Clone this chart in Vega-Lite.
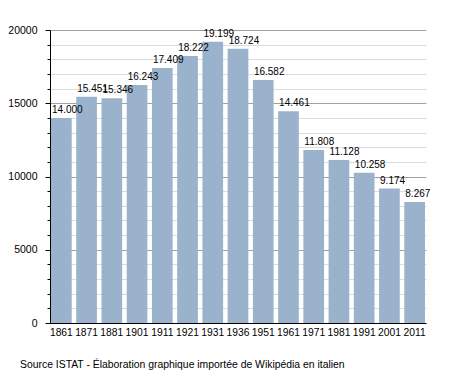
{
  "$schema": "https://vega.github.io/schema/vega-lite/v6.json",
  "autosize": "none",
  "width": 376,
  "height": 293,
  "padding": {"left": 50, "top": 30, "right": 29, "bottom": 50},
  "background": "white",
  "data": {"values": [
    {"year": "1861", "pop": 14000},
    {"year": "1871", "pop": 15451},
    {"year": "1881", "pop": 15346},
    {"year": "1901", "pop": 16243},
    {"year": "1911", "pop": 17409},
    {"year": "1921", "pop": 18222},
    {"year": "1931", "pop": 19199},
    {"year": "1936", "pop": 18724},
    {"year": "1951", "pop": 16582},
    {"year": "1961", "pop": 14461},
    {"year": "1971", "pop": 11808},
    {"year": "1981", "pop": 11128},
    {"year": "1991", "pop": 10258},
    {"year": "2001", "pop": 9174},
    {"year": "2011", "pop": 8267}
  ]},
  "title": {
    "text": "Source ISTAT - Élaboration graphique importée de Wikipédia en italien",
    "orient": "bottom",
    "anchor": "start",
    "frame": "group",
    "dx": -30,
    "offset": 23,
    "font": "Liberation Sans",
    "fontSize": 10.4,
    "fontWeight": "normal",
    "color": "#000"
  },
  "encoding": {
    "x": {
      "field": "year", "type": "ordinal", "sort": null,
      "scale": {"paddingInner": 0.18, "paddingOuter": 0.04},
      "axis": {
        "title": null, "labelAngle": 0, "ticks": false, "domainColor": "#000",
        "labelFont": "Liberation Sans", "labelFontSize": 10.3, "labelColor": "#000",
        "labelPadding": 4, "grid": false, "labelOverlap": false
      }
    },
    "y": {
      "field": "pop", "type": "quantitative",
      "scale": {"domain": [0, 20000]},
      "axis": {
        "title": null,
        "values": [0,1000,2000,3000,4000,5000,6000,7000,8000,9000,10000,11000,12000,13000,14000,15000,16000,17000,18000,19000,20000],
        "format": "d",
        "labelExpr": "datum.value % 5000 === 0 ? datum.label : ''",
        "domainColor": "#000",
        "tickColor": "#000",
        "tickSize": {"condition": {"test": "datum.value % 5000 === 0", "value": 5}, "value": 3},
        "grid": true,
        "gridColor": {"condition": {"test": "datum.value % 5000 === 0", "value": "#a0a0a0"}, "value": "#dcdcdc"},
        "labelFont": "Liberation Sans", "labelFontSize": 10.5, "labelColor": "#000",
        "labelPadding": 8
      }
    }
  },
  "layer": [
    {"mark": {"type": "bar", "color": "#9ab2cc"}},
    {
      "mark": {"type": "text", "align": "left", "baseline": "alphabetic", "dx": 1, "dy": -5,
               "font": "Liberation Sans", "fontSize": 10, "color": "#000"},
      "encoding": {
        "x": {"field": "year", "type": "ordinal", "sort": null, "bandPosition": 0},
        "text": {"field": "pop", "type": "quantitative", "format": ",d"}
      }
    }
  ],
  "config": {
    "view": {"stroke": null},
    "locale": {"number": {"decimal": ",", "thousands": ".", "grouping": [3], "currency": ["", " €"]}}
  }
}
